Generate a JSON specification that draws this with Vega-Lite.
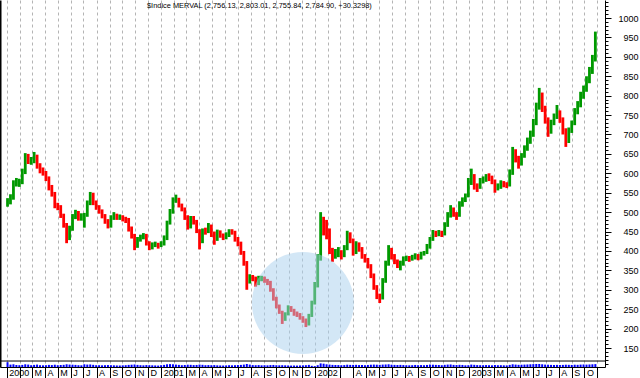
{
  "$schema": "https://vega.github.io/schema/vega-lite/v6.json",
  "autosize": "none",
  "padding": {"left": 0, "top": 0, "right": 35, "bottom": 11},
  "width": 605,
  "height": 367,
  "title": {"text": "$Indice MERVAL (2,756.13, 2,803.01, 2,755.84, 2,784.90, +30.3298)", "anchor": "start", "frame": "group", "offset": 0, "dx": 147, "dy": 11, "baseline": "top", "fontSize": 7.4, "fontWeight": "normal", "font": "Liberation Sans", "color": "#000000"},
  "config": {"view": {"stroke": null}, "axis": {"labelFont": "Liberation Sans", "labelColor": "#000000"}},
  "datasets": {
    "px": [
      {"d":"2000-01-03","o":522,"h":536,"l":514,"c":528,"v":80},
      {"d":"2000-01-10","o":528,"h":546,"l":520,"c":538,"v":40},
      {"d":"2000-01-17","o":538,"h":582,"l":532,"c":575,"v":45},
      {"d":"2000-01-24","o":575,"h":588,"l":566,"c":577,"v":35},
      {"d":"2000-01-31","o":577,"h":586,"l":565,"c":578,"v":30},
      {"d":"2000-02-07","o":578,"h":612,"l":572,"c":603,"v":35},
      {"d":"2000-02-14","o":603,"h":652,"l":598,"c":645,"v":45},
      {"d":"2000-02-21","o":645,"h":650,"l":624,"c":632,"v":40},
      {"d":"2000-02-28","o":632,"h":642,"l":622,"c":634,"v":30},
      {"d":"2000-03-06","o":634,"h":655,"l":626,"c":640,"v":35},
      {"d":"2000-03-13","o":640,"h":648,"l":612,"c":620,"v":40},
      {"d":"2000-03-20","o":620,"h":626,"l":600,"c":608,"v":30},
      {"d":"2000-03-27","o":608,"h":615,"l":594,"c":601,"v":28},
      {"d":"2000-04-03","o":601,"h":606,"l":580,"c":588,"v":30},
      {"d":"2000-04-10","o":588,"h":592,"l":556,"c":564,"v":35},
      {"d":"2000-04-17","o":564,"h":570,"l":540,"c":548,"v":32},
      {"d":"2000-04-24","o":548,"h":552,"l":510,"c":517,"v":38},
      {"d":"2000-05-01","o":517,"h":524,"l":505,"c":514,"v":30},
      {"d":"2000-05-08","o":514,"h":518,"l":485,"c":492,"v":33},
      {"d":"2000-05-15","o":492,"h":496,"l":460,"c":468,"v":36},
      {"d":"2000-05-22","o":468,"h":472,"l":420,"c":435,"v":45},
      {"d":"2000-05-29","o":435,"h":465,"l":428,"c":458,"v":40},
      {"d":"2000-06-05","o":458,"h":495,"l":452,"c":488,"v":38},
      {"d":"2000-06-12","o":488,"h":506,"l":482,"c":498,"v":35},
      {"d":"2000-06-19","o":498,"h":503,"l":478,"c":487,"v":30},
      {"d":"2000-06-26","o":487,"h":497,"l":478,"c":489,"v":28},
      {"d":"2000-07-03","o":489,"h":498,"l":460,"c":492,"v":45},
      {"d":"2000-07-10","o":492,"h":530,"l":488,"c":524,"v":40},
      {"d":"2000-07-17","o":524,"h":552,"l":518,"c":545,"v":42},
      {"d":"2000-07-24","o":545,"h":550,"l":518,"c":526,"v":36},
      {"d":"2000-07-31","o":526,"h":530,"l":506,"c":514,"v":30},
      {"d":"2000-08-07","o":514,"h":518,"l":496,"c":503,"v":30},
      {"d":"2000-08-14","o":503,"h":507,"l":484,"c":491,"v":28},
      {"d":"2000-08-21","o":491,"h":495,"l":470,"c":477,"v":30},
      {"d":"2000-08-28","o":477,"h":482,"l":458,"c":464,"v":32},
      {"d":"2000-09-04","o":464,"h":492,"l":460,"c":485,"v":30},
      {"d":"2000-09-11","o":485,"h":500,"l":480,"c":491,"v":28},
      {"d":"2000-09-18","o":491,"h":496,"l":480,"c":487,"v":26},
      {"d":"2000-09-25","o":487,"h":494,"l":480,"c":488,"v":25},
      {"d":"2000-10-02","o":488,"h":492,"l":476,"c":483,"v":28},
      {"d":"2000-10-09","o":483,"h":488,"l":472,"c":481,"v":30},
      {"d":"2000-10-16","o":481,"h":485,"l":450,"c":459,"v":35},
      {"d":"2000-10-23","o":459,"h":463,"l":432,"c":441,"v":38},
      {"d":"2000-10-30","o":441,"h":444,"l":402,"c":413,"v":42},
      {"d":"2000-11-06","o":413,"h":436,"l":408,"c":429,"v":35},
      {"d":"2000-11-13","o":429,"h":442,"l":424,"c":436,"v":30},
      {"d":"2000-11-20","o":436,"h":446,"l":430,"c":440,"v":28},
      {"d":"2000-11-27","o":440,"h":444,"l":414,"c":421,"v":32},
      {"d":"2000-12-04","o":421,"h":425,"l":402,"c":410,"v":30},
      {"d":"2000-12-11","o":410,"h":422,"l":404,"c":416,"v":28},
      {"d":"2000-12-18","o":416,"h":424,"l":410,"c":418,"v":26},
      {"d":"2000-12-25","o":418,"h":421,"l":406,"c":413,"v":24},
      {"d":"2001-01-01","o":413,"h":425,"l":410,"c":418,"v":30},
      {"d":"2001-01-08","o":418,"h":440,"l":414,"c":432,"v":35},
      {"d":"2001-01-15","o":432,"h":478,"l":428,"c":472,"v":45},
      {"d":"2001-01-22","o":472,"h":508,"l":468,"c":500,"v":48},
      {"d":"2001-01-29","o":500,"h":538,"l":496,"c":531,"v":45},
      {"d":"2001-02-05","o":531,"h":545,"l":524,"c":533,"v":40},
      {"d":"2001-02-12","o":533,"h":537,"l":512,"c":519,"v":35},
      {"d":"2001-02-19","o":519,"h":522,"l":502,"c":509,"v":30},
      {"d":"2001-02-26","o":509,"h":512,"l":480,"c":488,"v":33},
      {"d":"2001-03-05","o":488,"h":492,"l":455,"c":463,"v":38},
      {"d":"2001-03-12","o":463,"h":490,"l":458,"c":483,"v":36},
      {"d":"2001-03-19","o":483,"h":490,"l":468,"c":476,"v":32},
      {"d":"2001-03-26","o":476,"h":480,"l":446,"c":453,"v":34},
      {"d":"2001-04-02","o":453,"h":456,"l":404,"c":426,"v":40},
      {"d":"2001-04-09","o":426,"h":458,"l":420,"c":451,"v":36},
      {"d":"2001-04-16","o":451,"h":460,"l":442,"c":450,"v":30},
      {"d":"2001-04-23","o":450,"h":472,"l":446,"c":464,"v":32},
      {"d":"2001-04-30","o":464,"h":468,"l":436,"c":445,"v":30},
      {"d":"2001-05-07","o":445,"h":450,"l":416,"c":430,"v":32},
      {"d":"2001-05-14","o":430,"h":455,"l":426,"c":449,"v":28},
      {"d":"2001-05-21","o":449,"h":453,"l":434,"c":440,"v":26},
      {"d":"2001-05-28","o":440,"h":445,"l":428,"c":434,"v":25},
      {"d":"2001-06-04","o":434,"h":448,"l":430,"c":441,"v":27},
      {"d":"2001-06-11","o":441,"h":456,"l":436,"c":451,"v":30},
      {"d":"2001-06-18","o":451,"h":456,"l":442,"c":449,"v":28},
      {"d":"2001-06-25","o":449,"h":452,"l":424,"c":432,"v":30},
      {"d":"2001-07-02","o":432,"h":436,"l":412,"c":420,"v":32},
      {"d":"2001-07-09","o":420,"h":424,"l":390,"c":397,"v":35},
      {"d":"2001-07-16","o":397,"h":400,"l":362,"c":370,"v":40},
      {"d":"2001-07-23","o":370,"h":374,"l":300,"c":324,"v":50},
      {"d":"2001-07-30","o":324,"h":340,"l":316,"c":332,"v":40},
      {"d":"2001-08-06","o":332,"h":338,"l":322,"c":331,"v":32},
      {"d":"2001-08-13","o":331,"h":334,"l":308,"c":317,"v":30},
      {"d":"2001-08-20","o":317,"h":336,"l":312,"c":329,"v":32},
      {"d":"2001-08-27","o":329,"h":336,"l":322,"c":331,"v":28},
      {"d":"2001-09-03","o":331,"h":334,"l":318,"c":325,"v":30},
      {"d":"2001-09-10","o":325,"h":328,"l":312,"c":320,"v":28},
      {"d":"2001-09-17","o":320,"h":323,"l":295,"c":301,"v":32},
      {"d":"2001-09-24","o":301,"h":304,"l":272,"c":278,"v":34},
      {"d":"2001-10-01","o":278,"h":282,"l":252,"c":258,"v":30},
      {"d":"2001-10-08","o":258,"h":262,"l":238,"c":243,"v":28},
      {"d":"2001-10-15","o":243,"h":246,"l":212,"c":225,"v":30},
      {"d":"2001-10-22","o":225,"h":242,"l":220,"c":238,"v":28},
      {"d":"2001-10-29","o":238,"h":260,"l":234,"c":255,"v":26},
      {"d":"2001-11-05","o":255,"h":258,"l":243,"c":248,"v":24},
      {"d":"2001-11-12","o":248,"h":251,"l":233,"c":238,"v":25},
      {"d":"2001-11-19","o":238,"h":244,"l":230,"c":236,"v":24},
      {"d":"2001-11-26","o":236,"h":240,"l":223,"c":228,"v":26},
      {"d":"2001-12-03","o":228,"h":232,"l":215,"c":221,"v":28},
      {"d":"2001-12-10","o":221,"h":226,"l":204,"c":212,"v":30},
      {"d":"2001-12-17","o":212,"h":238,"l":208,"c":234,"v":35},
      {"d":"2001-12-24","o":234,"h":272,"l":230,"c":267,"v":20},
      {"d":"2001-12-31","o":267,"h":320,"l":262,"c":312,"v":15},
      {"d":"2002-01-07","o":312,"h":392,"l":306,"c":380,"v":30},
      {"d":"2002-01-14","o":380,"h":500,"l":375,"c":470,"v":60},
      {"d":"2002-01-21","o":470,"h":488,"l":440,"c":460,"v":55},
      {"d":"2002-01-28","o":460,"h":480,"l":430,"c":455,"v":45},
      {"d":"2002-02-04","o":455,"h":458,"l":392,"c":400,"v":40},
      {"d":"2002-02-11","o":400,"h":408,"l":372,"c":386,"v":35},
      {"d":"2002-02-18","o":386,"h":405,"l":380,"c":392,"v":33},
      {"d":"2002-02-25","o":392,"h":410,"l":384,"c":397,"v":32},
      {"d":"2002-03-04","o":397,"h":402,"l":378,"c":388,"v":30},
      {"d":"2002-03-11","o":388,"h":415,"l":384,"c":407,"v":32},
      {"d":"2002-03-18","o":407,"h":452,"l":402,"c":442,"v":38},
      {"d":"2002-03-25","o":442,"h":448,"l":420,"c":428,"v":35},
      {"d":"2002-04-01","o":428,"h":432,"l":388,"c":397,"v":35},
      {"d":"2002-04-08","o":397,"h":425,"l":392,"c":417,"v":36},
      {"d":"2002-04-15","o":417,"h":422,"l":398,"c":405,"v":32},
      {"d":"2002-04-22","o":405,"h":410,"l":380,"c":388,"v":33},
      {"d":"2002-04-29","o":388,"h":392,"l":370,"c":378,"v":30},
      {"d":"2002-05-06","o":378,"h":382,"l":355,"c":362,"v":34},
      {"d":"2002-05-13","o":362,"h":366,"l":330,"c":337,"v":38},
      {"d":"2002-05-20","o":337,"h":342,"l":300,"c":307,"v":40},
      {"d":"2002-05-27","o":307,"h":312,"l":276,"c":284,"v":38},
      {"d":"2002-06-03","o":284,"h":290,"l":266,"c":279,"v":36},
      {"d":"2002-06-10","o":279,"h":330,"l":275,"c":323,"v":40},
      {"d":"2002-06-17","o":323,"h":375,"l":318,"c":368,"v":42},
      {"d":"2002-06-24","o":368,"h":415,"l":362,"c":402,"v":45},
      {"d":"2002-07-01","o":402,"h":408,"l":378,"c":386,"v":38},
      {"d":"2002-07-08","o":386,"h":392,"l":366,"c":374,"v":35},
      {"d":"2002-07-15","o":374,"h":378,"l":356,"c":365,"v":33},
      {"d":"2002-07-22","o":365,"h":375,"l":350,"c":367,"v":35},
      {"d":"2002-07-29","o":367,"h":386,"l":362,"c":380,"v":32},
      {"d":"2002-08-05","o":380,"h":388,"l":374,"c":381,"v":30},
      {"d":"2002-08-12","o":381,"h":387,"l":372,"c":380,"v":28},
      {"d":"2002-08-19","o":380,"h":390,"l":375,"c":384,"v":30},
      {"d":"2002-08-26","o":384,"h":394,"l":378,"c":389,"v":34},
      {"d":"2002-09-02","o":389,"h":392,"l":376,"c":383,"v":30},
      {"d":"2002-09-09","o":383,"h":398,"l":378,"c":394,"v":32},
      {"d":"2002-09-16","o":394,"h":400,"l":388,"c":396,"v":30},
      {"d":"2002-09-23","o":396,"h":418,"l":392,"c":411,"v":34},
      {"d":"2002-09-30","o":411,"h":436,"l":406,"c":430,"v":40},
      {"d":"2002-10-07","o":430,"h":454,"l":426,"c":446,"v":38},
      {"d":"2002-10-14","o":446,"h":452,"l":436,"c":444,"v":35},
      {"d":"2002-10-21","o":444,"h":454,"l":438,"c":447,"v":33},
      {"d":"2002-10-28","o":447,"h":452,"l":436,"c":444,"v":30},
      {"d":"2002-11-04","o":444,"h":474,"l":440,"c":467,"v":36},
      {"d":"2002-11-11","o":467,"h":500,"l":462,"c":492,"v":40},
      {"d":"2002-11-18","o":492,"h":518,"l":486,"c":508,"v":42},
      {"d":"2002-11-25","o":508,"h":512,"l":488,"c":496,"v":35},
      {"d":"2002-12-02","o":496,"h":500,"l":480,"c":492,"v":33},
      {"d":"2002-12-09","o":492,"h":528,"l":488,"c":520,"v":36},
      {"d":"2002-12-16","o":520,"h":538,"l":514,"c":531,"v":34},
      {"d":"2002-12-23","o":531,"h":548,"l":526,"c":542,"v":28},
      {"d":"2002-12-30","o":542,"h":588,"l":538,"c":578,"v":30},
      {"d":"2003-01-06","o":578,"h":612,"l":570,"c":593,"v":40},
      {"d":"2003-01-13","o":593,"h":598,"l":558,"c":568,"v":36},
      {"d":"2003-01-20","o":568,"h":574,"l":552,"c":566,"v":32},
      {"d":"2003-01-27","o":566,"h":588,"l":560,"c":580,"v":30},
      {"d":"2003-02-03","o":580,"h":592,"l":574,"c":584,"v":30},
      {"d":"2003-02-10","o":584,"h":598,"l":578,"c":591,"v":32},
      {"d":"2003-02-17","o":591,"h":600,"l":580,"c":589,"v":30},
      {"d":"2003-02-24","o":589,"h":594,"l":572,"c":580,"v":28},
      {"d":"2003-03-03","o":580,"h":584,"l":550,"c":561,"v":33},
      {"d":"2003-03-10","o":561,"h":574,"l":556,"c":566,"v":30},
      {"d":"2003-03-17","o":566,"h":582,"l":560,"c":575,"v":30},
      {"d":"2003-03-24","o":575,"h":580,"l":564,"c":571,"v":28},
      {"d":"2003-03-31","o":571,"h":577,"l":562,"c":569,"v":27},
      {"d":"2003-04-07","o":569,"h":610,"l":566,"c":600,"v":35},
      {"d":"2003-04-14","o":600,"h":668,"l":596,"c":655,"v":45},
      {"d":"2003-04-21","o":655,"h":662,"l":628,"c":638,"v":40},
      {"d":"2003-04-28","o":638,"h":645,"l":612,"c":626,"v":36},
      {"d":"2003-05-05","o":626,"h":652,"l":620,"c":645,"v":38},
      {"d":"2003-05-12","o":645,"h":672,"l":640,"c":664,"v":40},
      {"d":"2003-05-19","o":664,"h":692,"l":658,"c":683,"v":42},
      {"d":"2003-05-26","o":683,"h":710,"l":676,"c":700,"v":45},
      {"d":"2003-06-02","o":700,"h":740,"l":694,"c":730,"v":48},
      {"d":"2003-06-09","o":730,"h":782,"l":724,"c":770,"v":50},
      {"d":"2003-06-16","o":770,"h":820,"l":764,"c":803,"v":50},
      {"d":"2003-06-23","o":803,"h":808,"l":758,"c":769,"v":45},
      {"d":"2003-06-30","o":769,"h":774,"l":728,"c":739,"v":40},
      {"d":"2003-07-07","o":739,"h":744,"l":694,"c":709,"v":38},
      {"d":"2003-07-14","o":709,"h":738,"l":702,"c":730,"v":35},
      {"d":"2003-07-21","o":730,"h":754,"l":724,"c":746,"v":33},
      {"d":"2003-07-28","o":746,"h":776,"l":740,"c":756,"v":35},
      {"d":"2003-08-04","o":756,"h":762,"l":730,"c":739,"v":33},
      {"d":"2003-08-11","o":739,"h":744,"l":700,"c":710,"v":35},
      {"d":"2003-08-18","o":710,"h":716,"l":668,"c":683,"v":38},
      {"d":"2003-08-25","o":683,"h":718,"l":678,"c":711,"v":36},
      {"d":"2003-09-01","o":711,"h":736,"l":704,"c":729,"v":34},
      {"d":"2003-09-08","o":729,"h":768,"l":724,"c":760,"v":38},
      {"d":"2003-09-15","o":760,"h":786,"l":752,"c":777,"v":36},
      {"d":"2003-09-22","o":777,"h":810,"l":770,"c":800,"v":40},
      {"d":"2003-09-29","o":800,"h":826,"l":792,"c":817,"v":42},
      {"d":"2003-10-06","o":817,"h":850,"l":810,"c":839,"v":40},
      {"d":"2003-10-13","o":839,"h":874,"l":832,"c":863,"v":42},
      {"d":"2003-10-20","o":863,"h":905,"l":856,"c":895,"v":45},
      {"d":"2003-10-27","o":895,"h":965,"l":888,"c":950,"v":48}
    ],
    "ann": [{"d": "2001-12-03", "p": 266}]
  },
  "layer": [
    {
      "data": {"name": "px"},
      "mark": {"type": "rule", "strokeWidth": 2.8},
      "encoding": {
        "x": {"field": "d", "type": "temporal", "scale": {"domain": [{"year": 1999, "month": 12, "date": 28}, {"year": 2003, "month": 11, "date": 7}]},
          "axis": {"orient": "bottom", "title": null, "grid": true, "gridColor": "#b4b4b4", "gridDash": [3, 3], "gridWidth": 1,
            "domain": true, "domainColor": "#000000", "tickColor": "#000000", "tickSize": 11,
            "tickCount": {"interval": "month", "step": 1},
            "labelExpr": "month(datum.value) == 0 ? '' + year(datum.value) : ((month(datum.value) == 1 || (year(datum.value) == 2002 && month(datum.value) == 2) || (year(datum.value) == 2003 && month(datum.value) == 10)) ? '' : substring(timeFormat(datum.value, '%b'), 0, 1))",
            "labelAlign": "left", "labelBaseline": "top", "labelPadding": -10, "labelOffset": 2, "labelFontSize": 9, "labelOverlap": false, "labelBound": false, "labelFlush": false}},
        "y": {"field": "l", "type": "quantitative", "scale": {"domain": [101.1, 1046.4], "nice": false, "zero": false},
          "axis": {"orient": "right", "title": null, "grid": false, "domain": true, "domainColor": "#000000", "tickColor": "#000000",
            "values": [110,120,130,140,150,160,170,180,190,200,210,220,230,240,250,260,270,280,290,300,310,320,330,340,350,360,370,380,390,400,410,420,430,440,450,460,470,480,490,500,510,520,530,540,550,560,570,580,590,600,610,620,630,640,650,660,670,680,690,700,710,720,730,740,750,760,770,780,790,800,810,820,830,840,850,860,870,880,890,900,910,920,930,940,950,960,970,980,990,1000,1010,1020,1030,1040],
            "format": "d",
            "labelExpr": "datum.value % 50 == 0 && datum.value >= 150 && datum.value <= 1000 ? datum.label : ''",
            "tickSize": {"condition": {"test": "datum.value % 50 == 0", "value": 6}, "value": 3},
            "labelAlign": "right", "labelPadding": 27, "labelFontSize": 9, "labelOverlap": false, "labelBound": false}},
        "y2": {"field": "h"},
        "color": {"condition": {"test": "datum.c >= datum.o", "value": "#009900"}, "value": "#ff0000"}
      }
    },
    {
      "data": {"name": "ann"},
      "mark": {"type": "point", "shape": "circle", "filled": true, "size": 10404, "color": "#a8cfee", "opacity": 0.5},
      "encoding": {
        "x": {"field": "d", "type": "temporal"},
        "y": {"field": "p", "type": "quantitative", "scale": {"domain": [101.1, 1046.4], "nice": false, "zero": false},
          "axis": {"orient": "left", "title": null, "labels": false, "ticks": false, "grid": false, "domain": true, "domainColor": "#000000", "domainWidth": 2}}
      }
    },
    {
      "data": {"name": "ann"},
      "mark": {"type": "rule", "color": "#000000", "strokeWidth": 1},
      "encoding": {
        "y": {"datum": 116.5, "type": "quantitative", "scale": {"domain": [101.1, 1046.4], "nice": false, "zero": false}, "axis": null}
      }
    },
    {
      "data": {"name": "px"},
      "mark": {"type": "bar", "width": 2, "color": "#0000ff"},
      "encoding": {
        "x": {"field": "d", "type": "temporal"},
        "y": {"field": "v", "type": "quantitative", "scale": {"domain": [0, 6117]}, "axis": null}
      }
    }
  ],
  "resolve": {"scale": {"y": "independent"}, "axis": {"y": "independent"}}
}
